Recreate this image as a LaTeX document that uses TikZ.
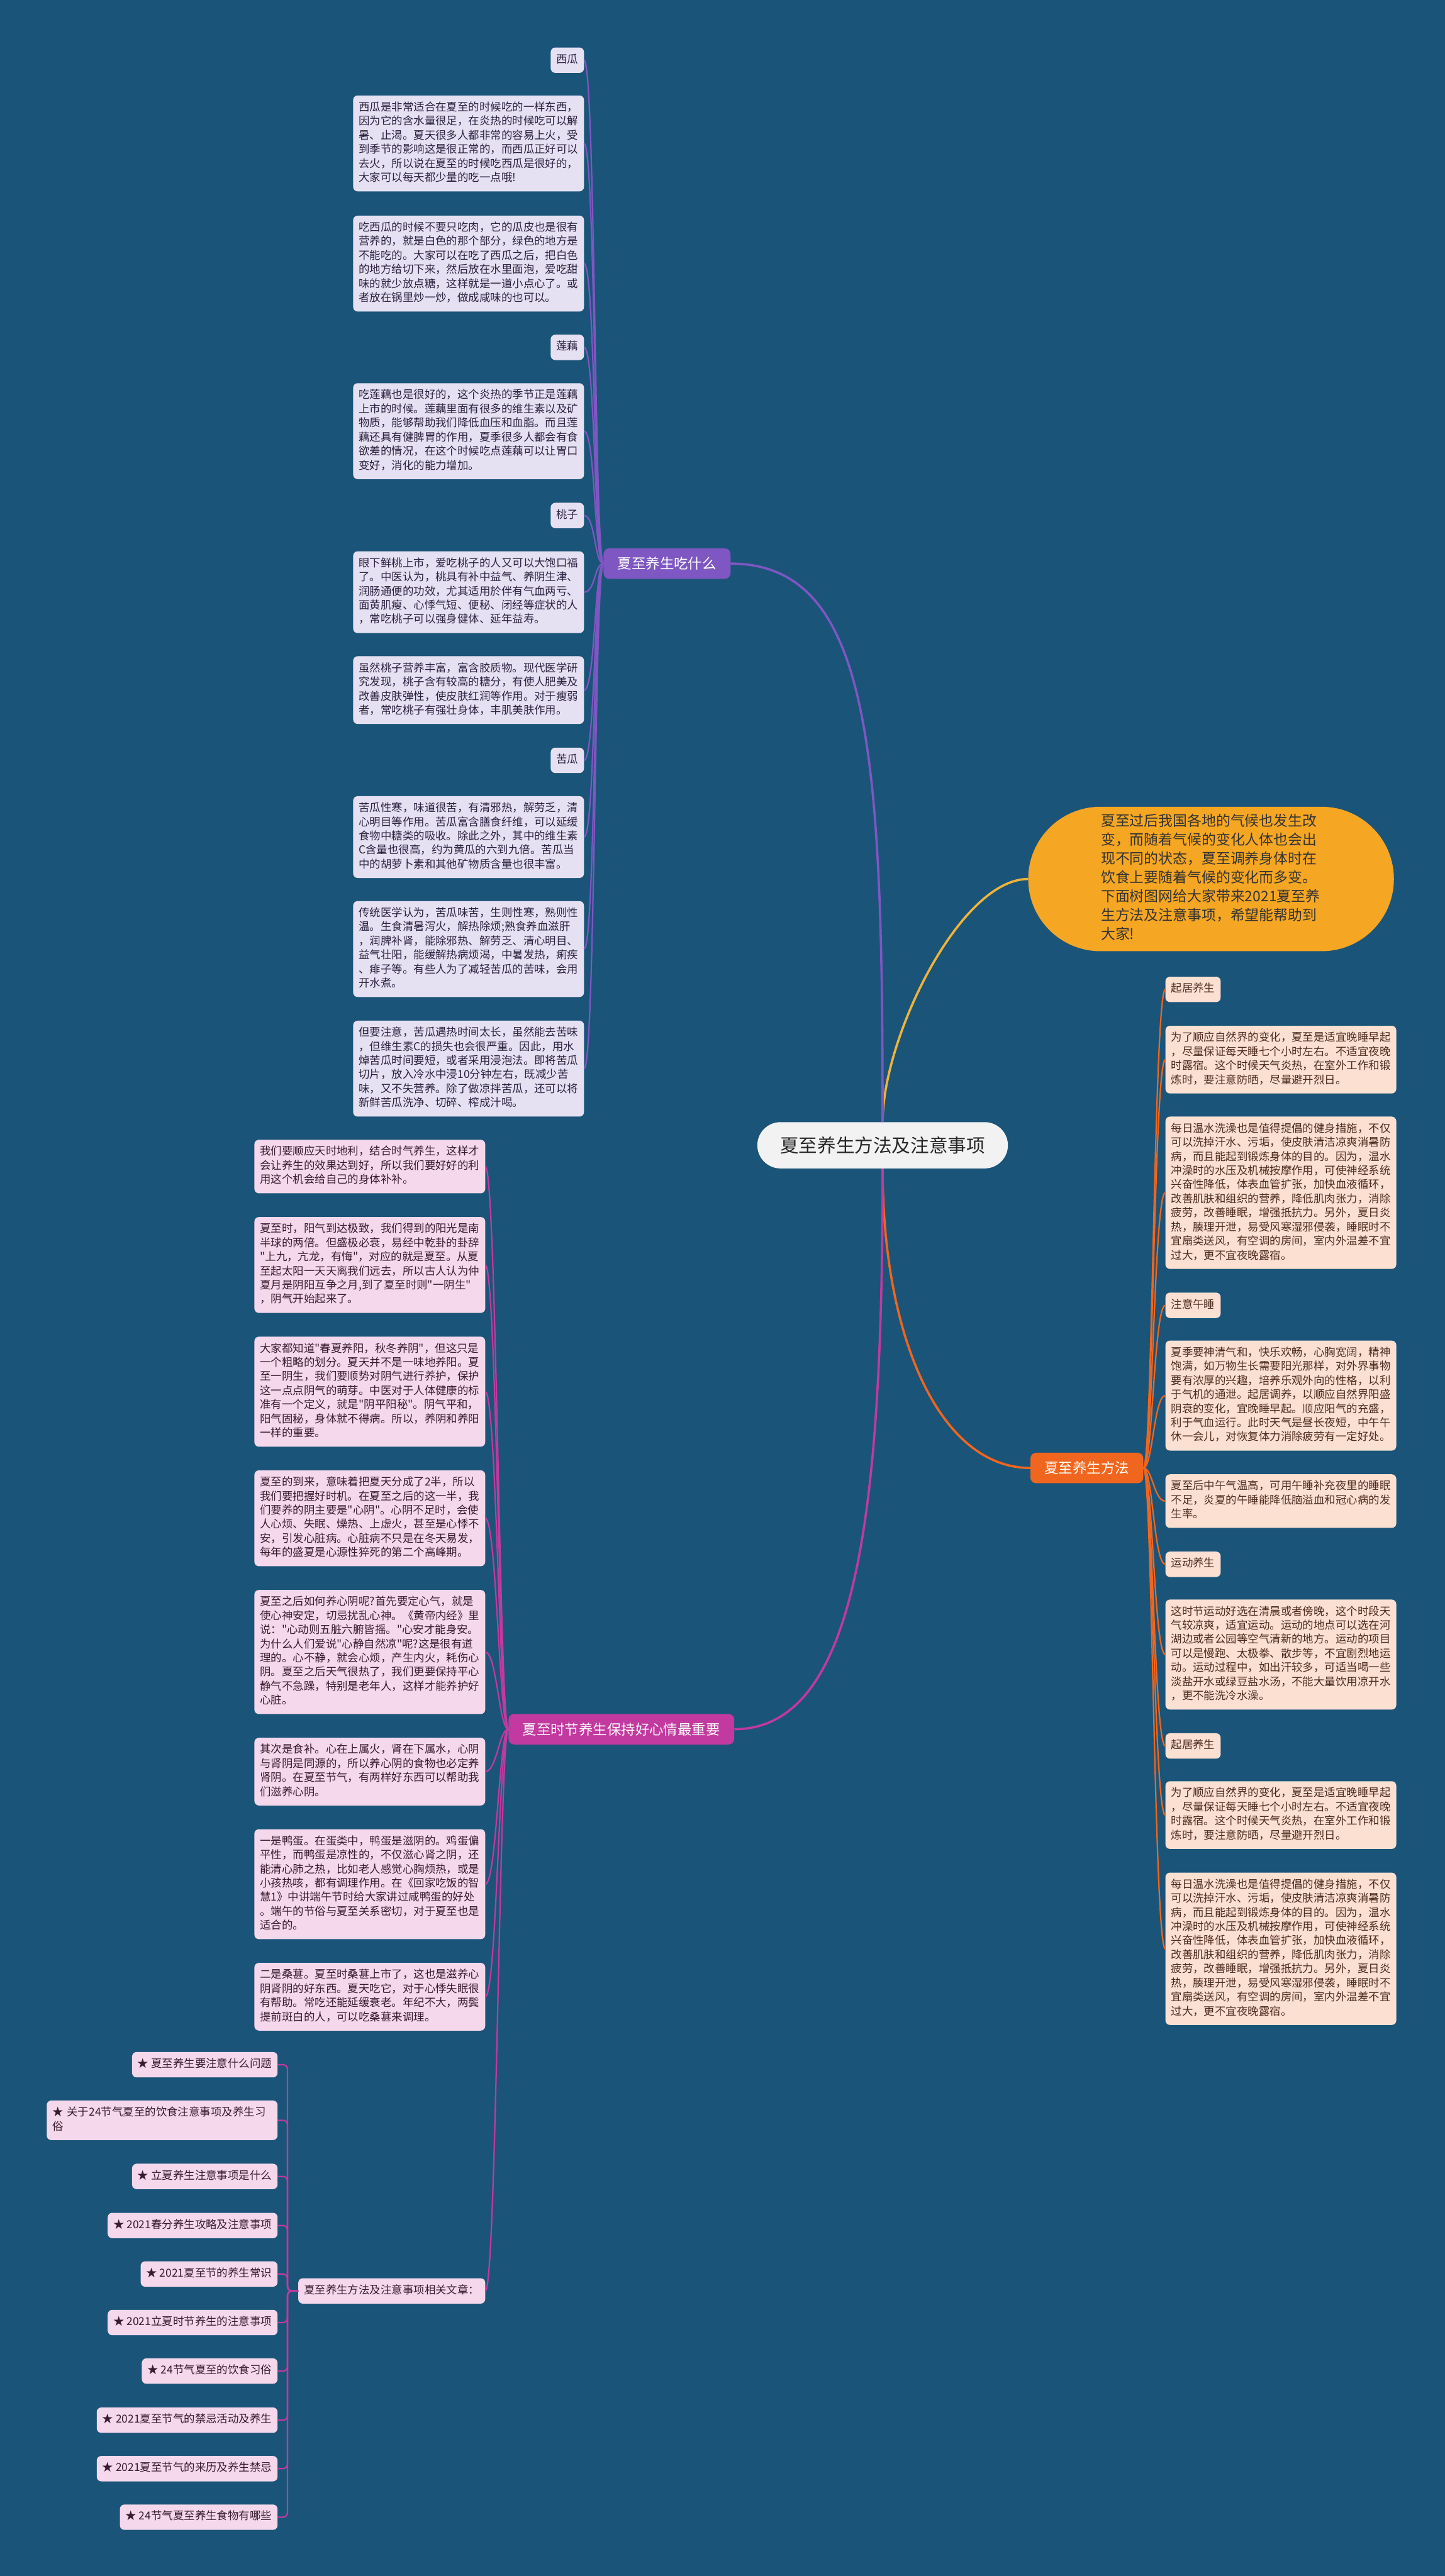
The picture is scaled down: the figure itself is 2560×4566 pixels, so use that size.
\documentclass[tikz,border=0pt]{standalone}
\usepackage{fontspec}
\setmainfont{Noto Sans CJK SC}
\newfontfamily\cjkfont{Noto Sans CJK SC}
\usepackage{xcolor}
\usepackage{tikz}

\definecolor{bgblue}{HTML}{1B5479}
\definecolor{lavbox}{HTML}{E6E1F2}
\definecolor{lavtxt}{HTML}{2B2140}
\definecolor{purp}{HTML}{7E57C2}
\definecolor{pinkbox}{HTML}{F5D8EB}
\definecolor{pinktxt}{HTML}{3A1A30}
\definecolor{magen}{HTML}{C2399F}
\definecolor{peachbox}{HTML}{FCE0D2}
\definecolor{peachtxt}{HTML}{4D2C1E}
\definecolor{ored}{HTML}{F0661E}
\definecolor{bubble}{HTML}{F5A623}
\definecolor{ylwline}{HTML}{F0B43A}
\definecolor{rootbox}{HTML}{F2F2F2}

\begin{document}
\cjkfont
\begin{tikzpicture}[x=1pt,y=-1pt,
  txt/.style={font=\cjkfont\fontsize{19.45}{25}\selectfont, inner xsep=10pt, inner ysep=10pt,
    rounded corners=8pt, execute at begin node=\strut, execute at end node=\strut},
  leaf/.style={txt, text width=389pt, align=left},
  lav/.style={fill=lavbox, text=lavtxt},
  pnk/.style={fill=pinkbox, text=pinktxt},
  pch/.style={fill=peachbox, text=peachtxt},
  branch/.style={font=\cjkfont\fontsize{25}{30}\selectfont, text=white, inner xsep=25pt,
    minimum height=54pt, rounded corners=10pt},
  purpline/.style={draw=purp, line width=2.5pt},
  magline/.style={draw=magen, line width=2.5pt},
  oline/.style={draw=ored, line width=2.5pt}]

\fill[bgblue] (0,0) rectangle (2560,4566);

\node[fill=rootbox, text=black!85, font=\cjkfont\fontsize{33}{40}\selectfont, minimum width=444pt,
  minimum height=82pt, rounded corners=41pt] (root) at (1564,2030) {夏至养生方法及注意事项};

\node[fill=bubble, text=black!80, font=\cjkfont\fontsize{25.5}{33.5}\selectfont, text width=390pt,
  align=left, minimum width=648pt, minimum height=256pt, rounded corners=128pt,
  execute at begin node=\strut, execute at end node=\strut] (intro) at (2146,1558)
  {夏至过后我国各地的气候也发生改\\变，而随着气候的变化人体也会出\\现不同的状态，夏至调养身体时在\\饮食上要随着气候的变化而多变。\\下面树图网给大家带来2021夏至养\\生方法及注意事项，希望能帮助到\\大家!};

\node[branch, fill=purp] (eat) at (1182,999) {夏至养生吃什么};
\node[branch, fill=ored] (meth) at (1926,2602) {夏至养生方法};
\node[branch, fill=magen] (mood) at (1101,3065) {夏至时节养生保持好心情最重要};

\draw[draw=ylwline, line width=4pt] (root.north) .. controls +(0,-150) and +(-120,0) .. (intro.west);
\draw[draw=purp, line width=4pt] (root.north) .. controls +(0,-650) and +(250,0) .. (eat.east);
\draw[draw=ored, line width=4pt] (root.south) .. controls +(0,300) and +(-160,0) .. (meth.west);
\draw[draw=magen, line width=4pt] (root.south) .. controls +(0,600) and +(220,0) .. (mood.east);

\node[txt, lav, anchor=north east] (xgL) at (1035,84) {西瓜};
\node[leaf, lav, anchor=north east] (xg1) at (1035,169) {西瓜是非常适合在夏至的时候吃的一样东西，\\因为它的含水量很足，在炎热的时候吃可以解\\暑、止渴。夏天很多人都非常的容易上火，受\\到季节的影响这是很正常的，而西瓜正好可以\\去火，所以说在夏至的时候吃西瓜是很好的，\\大家可以每天都少量的吃一点哦!};
\node[leaf, lav, anchor=north east] (xg2) at (1035,382) {吃西瓜的时候不要只吃肉，它的瓜皮也是很有\\营养的，就是白色的那个部分，绿色的地方是\\不能吃的。大家可以在吃了西瓜之后，把白色\\的地方给切下来，然后放在水里面泡，爱吃甜\\味的就少放点糖，这样就是一道小点心了。或\\者放在锅里炒一炒，做成咸味的也可以。};
\node[txt, lav, anchor=north east] (loL) at (1035,593) {莲藕};
\node[leaf, lav, anchor=north east] (lo1) at (1035,679) {吃莲藕也是很好的，这个炎热的季节正是莲藕\\上市的时候。莲藕里面有很多的维生素以及矿\\物质，能够帮助我们降低血压和血脂。而且莲\\藕还具有健脾胃的作用，夏季很多人都会有食\\欲差的情况，在这个时候吃点莲藕可以让胃口\\变好，消化的能力增加。};
\node[txt, lav, anchor=north east] (tzL) at (1035,891) {桃子};
\node[leaf, lav, anchor=north east] (tz1) at (1035,977) {眼下鲜桃上市，爱吃桃子的人又可以大饱口福\\了。中医认为，桃具有补中益气、养阴生津、\\润肠通便的功效，尤其适用於伴有气血两亏、\\面黄肌瘦、心悸气短、便秘、闭经等症状的人\\，常吃桃子可以强身健体、延年益寿。};
\node[leaf, lav, anchor=north east] (tz2) at (1035,1163) {虽然桃子营养丰富，富含胶质物。现代医学研\\究发现，桃子含有较高的糖分，有使人肥美及\\改善皮肤弹性，使皮肤红润等作用。对于瘦弱\\者，常吃桃子有强壮身体，丰肌美肤作用。};
\node[txt, lav, anchor=north east] (kgL) at (1035,1325) {苦瓜};
\node[leaf, lav, anchor=north east] (kg1) at (1035,1411) {苦瓜性寒，味道很苦，有清邪热，解劳乏，清\\心明目等作用。苦瓜富含膳食纤维，可以延缓\\食物中糖类的吸收。除此之外，其中的维生素\\C含量也很高，约为黄瓜的六到九倍。苦瓜当\\中的胡萝卜素和其他矿物质含量也很丰富。};
\node[leaf, lav, anchor=north east] (kg2) at (1035,1597) {传统医学认为，苦瓜味苦，生则性寒，熟则性\\温。生食清暑泻火，解热除烦;熟食养血滋肝\\，润脾补肾，能除邪热、解劳乏、清心明目、\\益气壮阳，能缓解热病烦渴，中暑发热，痢疾\\、痱子等。有些人为了减轻苦瓜的苦味，会用\\开水煮。};
\node[leaf, lav, anchor=north east] (kg3) at (1035,1809) {但要注意，苦瓜遇热时间太长，虽然能去苦味\\，但维生素C的损失也会很严重。因此，用水\\焯苦瓜时间要短，或者采用浸泡法。即将苦瓜\\切片，放入冷水中浸10分钟左右，既减少苦\\味，又不失营养。除了做凉拌苦瓜，还可以将\\新鲜苦瓜洗净、切碎、榨成汁喝。};

\draw[purpline] (eat.west) .. controls +(-16,0) and +(20,0) .. (xgL.east);
\draw[purpline] (eat.west) .. controls +(-16,0) and +(20,0) .. (xg1.east);
\draw[purpline] (eat.west) .. controls +(-16,0) and +(20,0) .. (xg2.east);
\draw[purpline] (eat.west) .. controls +(-16,0) and +(20,0) .. (loL.east);
\draw[purpline] (eat.west) .. controls +(-16,0) and +(20,0) .. (lo1.east);
\draw[purpline] (eat.west) .. controls +(-16,0) and +(20,0) .. (tzL.east);
\draw[purpline] (eat.west) .. controls +(-16,0) and +(20,0) .. (tz1.east);
\draw[purpline] (eat.west) .. controls +(-16,0) and +(20,0) .. (tz2.east);
\draw[purpline] (eat.west) .. controls +(-16,0) and +(20,0) .. (kgL.east);
\draw[purpline] (eat.west) .. controls +(-16,0) and +(20,0) .. (kg1.east);
\draw[purpline] (eat.west) .. controls +(-16,0) and +(20,0) .. (kg2.east);
\draw[purpline] (eat.west) .. controls +(-16,0) and +(20,0) .. (kg3.east);

\node[txt, pch, anchor=north west] (q1L) at (2065,1731) {起居养生};
\node[leaf, pch, anchor=north west] (q1a) at (2065,1818) {为了顺应自然界的变化，夏至是适宜晚睡早起\\，尽量保证每天睡七个小时左右。不适宜夜晚\\时露宿。这个时候天气炎热，在室外工作和锻\\炼时，要注意防晒，尽量避开烈日。};
\node[leaf, pch, anchor=north west] (q1b) at (2065,1979) {每日温水洗澡也是值得提倡的健身措施，不仅\\可以洗掉汗水、污垢，使皮肤清洁凉爽消暑防\\病，而且能起到锻炼身体的目的。因为，温水\\冲澡时的水压及机械按摩作用，可使神经系统\\兴奋性降低，体表血管扩张，加快血液循环，\\改善肌肤和组织的营养，降低肌肉张力，消除\\疲劳，改善睡眠，增强抵抗力。另外，夏日炎\\热，腠理开泄，易受风寒湿邪侵袭，睡眠时不\\宜扇类送风，有空调的房间，室内外温差不宜\\过大，更不宜夜晚露宿。};
\node[txt, pch, anchor=north west] (wsL) at (2065,2291) {注意午睡};
\node[leaf, pch, anchor=north west] (ws1) at (2065,2376) {夏季要神清气和，快乐欢畅，心胸宽阔，精神\\饱满，如万物生长需要阳光那样，对外界事物\\要有浓厚的兴趣，培养乐观外向的性格，以利\\于气机的通泄。起居调养，以顺应自然界阳盛\\阴衰的变化，宜晚睡早起。顺应阳气的充盛，\\利于气血运行。此时天气是昼长夜短，中午午\\休一会儿，对恢复体力消除疲劳有一定好处。};
\node[leaf, pch, anchor=north west] (ws2) at (2065,2613) {夏至后中午气温高，可用午睡补充夜里的睡眠\\不足，炎夏的午睡能降低脑溢血和冠心病的发\\生率。};
\node[txt, pch, anchor=north west] (ydL) at (2065,2750) {运动养生};
\node[leaf, pch, anchor=north west] (yd1) at (2065,2835) {这时节运动好选在清晨或者傍晚，这个时段天\\气较凉爽，适宜运动。运动的地点可以选在河\\湖边或者公园等空气清新的地方。运动的项目\\可以是慢跑、太极拳、散步等，不宜剧烈地运\\动。运动过程中，如出汗较多，可适当喝一些\\淡盐开水或绿豆盐水汤，不能大量饮用凉开水\\，更不能洗冷水澡。};
\node[txt, pch, anchor=north west] (q2L) at (2065,3072) {起居养生};
\node[leaf, pch, anchor=north west] (q2a) at (2065,3157) {为了顺应自然界的变化，夏至是适宜晚睡早起\\，尽量保证每天睡七个小时左右。不适宜夜晚\\时露宿。这个时候天气炎热，在室外工作和锻\\炼时，要注意防晒，尽量避开烈日。};
\node[leaf, pch, anchor=north west] (q2b) at (2065,3319) {每日温水洗澡也是值得提倡的健身措施，不仅\\可以洗掉汗水、污垢，使皮肤清洁凉爽消暑防\\病，而且能起到锻炼身体的目的。因为，温水\\冲澡时的水压及机械按摩作用，可使神经系统\\兴奋性降低，体表血管扩张，加快血液循环，\\改善肌肤和组织的营养，降低肌肉张力，消除\\疲劳，改善睡眠，增强抵抗力。另外，夏日炎\\热，腠理开泄，易受风寒湿邪侵袭，睡眠时不\\宜扇类送风，有空调的房间，室内外温差不宜\\过大，更不宜夜晚露宿。};

\draw[oline] (meth.east) .. controls +(16,0) and +(-20,0) .. (q1L.west);
\draw[oline] (meth.east) .. controls +(16,0) and +(-20,0) .. (q1a.west);
\draw[oline] (meth.east) .. controls +(16,0) and +(-20,0) .. (q1b.west);
\draw[oline] (meth.east) .. controls +(16,0) and +(-20,0) .. (wsL.west);
\draw[oline] (meth.east) .. controls +(16,0) and +(-20,0) .. (ws1.west);
\draw[oline] (meth.east) .. controls +(16,0) and +(-20,0) .. (ws2.west);
\draw[oline] (meth.east) .. controls +(16,0) and +(-20,0) .. (ydL.west);
\draw[oline] (meth.east) .. controls +(16,0) and +(-20,0) .. (yd1.west);
\draw[oline] (meth.east) .. controls +(16,0) and +(-20,0) .. (q2L.west);
\draw[oline] (meth.east) .. controls +(16,0) and +(-20,0) .. (q2a.west);
\draw[oline] (meth.east) .. controls +(16,0) and +(-20,0) .. (q2b.west);

\node[leaf, pnk, anchor=north east] (m1) at (860,2020) {我们要顺应天时地利，结合时气养生，这样才\\会让养生的效果达到好，所以我们要好好的利\\用这个机会给自己的身体补补。};
\node[leaf, pnk, anchor=north east] (m2) at (860,2157) {夏至时，阳气到达极致，我们得到的阳光是南\\半球的两倍。但盛极必衰，易经中乾卦的卦辞\\"上九，亢龙，有悔"，对应的就是夏至。从夏\\至起太阳一天天离我们远去，所以古人认为仲\\夏月是阴阳互争之月,到了夏至时则"一阴生"\\，阴气开始起来了。};
\node[leaf, pnk, anchor=north east] (m3) at (860,2369) {大家都知道"春夏养阳，秋冬养阴"，但这只是\\一个粗略的划分。夏天并不是一味地养阳。夏\\至一阴生，我们要顺势对阴气进行养护，保护\\这一点点阴气的萌芽。中医对于人体健康的标\\准有一个定义，就是"阴平阳秘"。阴气平和，\\阳气固秘，身体就不得病。所以，养阴和养阳\\一样的重要。};
\node[leaf, pnk, anchor=north east] (m4) at (860,2606) {夏至的到来，意味着把夏天分成了2半，所以\\我们要把握好时机。在夏至之后的这一半，我\\们要养的阴主要是"心阴"。心阴不足时，会使\\人心烦、失眠、燥热、上虚火，甚至是心悸不\\安，引发心脏病。心脏病不只是在冬天易发，\\每年的盛夏是心源性猝死的第二个高峰期。};
\node[leaf, pnk, anchor=north east] (m5) at (860,2818) {夏至之后如何养心阴呢?首先要定心气，就是\\使心神安定，切忌扰乱心神。《黄帝内经》里\\说："心动则五脏六腑皆摇。"心安才能身安。\\为什么人们爱说"心静自然凉"呢?这是很有道\\理的。心不静，就会心烦，产生内火，耗伤心\\阴。夏至之后天气很热了，我们更要保持平心\\静气不急躁，特别是老年人，这样才能养护好\\心脏。};
\node[leaf, pnk, anchor=north east] (m6) at (860,3080) {其次是食补。心在上属火，肾在下属水，心阴\\与肾阴是同源的，所以养心阴的食物也必定养\\肾阴。在夏至节气，有两样好东西可以帮助我\\们滋养心阴。};
\node[leaf, pnk, anchor=north east] (m7) at (860,3242) {一是鸭蛋。在蛋类中，鸭蛋是滋阴的。鸡蛋偏\\平性，而鸭蛋是凉性的，不仅滋心肾之阴，还\\能清心肺之热，比如老人感觉心胸烦热，或是\\小孩热咳，都有调理作用。在《回家吃饭的智\\慧1》中讲端午节时给大家讲过咸鸭蛋的好处\\。端午的节俗与夏至关系密切，对于夏至也是\\适合的。};
\node[leaf, pnk, anchor=north east] (m8) at (860,3479) {二是桑葚。夏至时桑葚上市了，这也是滋养心\\阴肾阴的好东西。夏天吃它，对于心悸失眠很\\有帮助。常吃还能延缓衰老。年纪不大，两鬓\\提前斑白的人，可以吃桑葚来调理。};
\node[txt, pnk, anchor=north east] (rel) at (860,4038) {夏至养生方法及注意事项相关文章：};

\draw[magline] (mood.west) .. controls +(-16,0) and +(20,0) .. (m1.east);
\draw[magline] (mood.west) .. controls +(-16,0) and +(20,0) .. (m2.east);
\draw[magline] (mood.west) .. controls +(-16,0) and +(20,0) .. (m3.east);
\draw[magline] (mood.west) .. controls +(-16,0) and +(20,0) .. (m4.east);
\draw[magline] (mood.west) .. controls +(-16,0) and +(20,0) .. (m5.east);
\draw[magline] (mood.west) .. controls +(-16,0) and +(20,0) .. (m6.east);
\draw[magline] (mood.west) .. controls +(-16,0) and +(20,0) .. (m7.east);
\draw[magline] (mood.west) .. controls +(-16,0) and +(20,0) .. (m8.east);
\draw[magline] (mood.west) .. controls +(-16,0) and +(20,0) .. (rel.east);

\node[txt, pnk, anchor=north east] (r1) at (492,3637) {★ 夏至养生要注意什么问题};
\node[leaf, pnk, anchor=north east] (r2) at (492,3723) {★ 关于24节气夏至的饮食注意事项及养生习\\俗};
\node[txt, pnk, anchor=north east] (r3) at (492,3835) {★ 立夏养生注意事项是什么};
\node[txt, pnk, anchor=north east] (r4) at (492,3922) {★ 2021春分养生攻略及注意事项};
\node[txt, pnk, anchor=north east] (r5) at (492,4008) {★ 2021夏至节的养生常识};
\node[txt, pnk, anchor=north east] (r6) at (492,4094) {★ 2021立夏时节养生的注意事项};
\node[txt, pnk, anchor=north east] (r7) at (492,4180) {★ 24节气夏至的饮食习俗};
\node[txt, pnk, anchor=north east] (r8) at (492,4267) {★ 2021夏至节气的禁忌活动及养生};
\node[txt, pnk, anchor=north east] (r9) at (492,4353) {★ 2021夏至节气的来历及养生禁忌};
\node[txt, pnk, anchor=north east] (r10) at (492,4439) {★ 24节气夏至养生食物有哪些};

\draw[magline, rounded corners=8pt] (rel.west) -- ++(-19,0) |- (r1.east);
\draw[magline, rounded corners=8pt] (rel.west) -- ++(-19,0) |- (r2.east);
\draw[magline, rounded corners=8pt] (rel.west) -- ++(-19,0) |- (r3.east);
\draw[magline, rounded corners=8pt] (rel.west) -- ++(-19,0) |- (r4.east);
\draw[magline, rounded corners=8pt] (rel.west) -- ++(-19,0) |- (r5.east);
\draw[magline, rounded corners=8pt] (rel.west) -- ++(-19,0) |- (r6.east);
\draw[magline, rounded corners=8pt] (rel.west) -- ++(-19,0) |- (r7.east);
\draw[magline, rounded corners=8pt] (rel.west) -- ++(-19,0) |- (r8.east);
\draw[magline, rounded corners=8pt] (rel.west) -- ++(-19,0) |- (r9.east);
\draw[magline, rounded corners=8pt] (rel.west) -- ++(-19,0) |- (r10.east);
\end{tikzpicture}
\end{document}
